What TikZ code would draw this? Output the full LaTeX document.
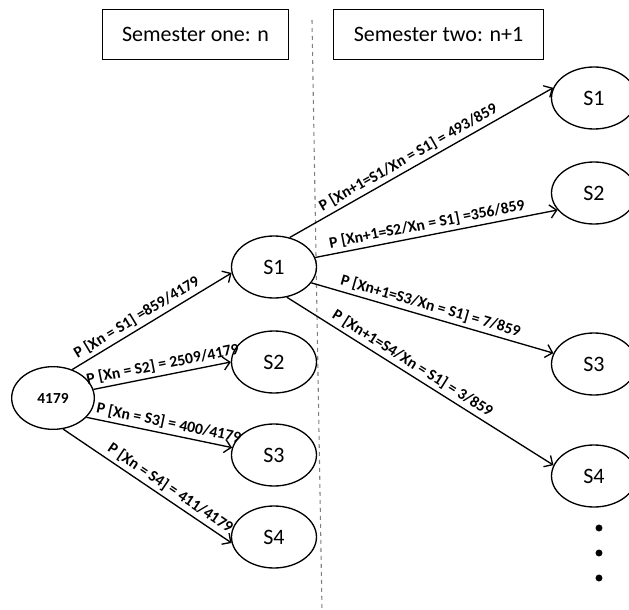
\documentclass[tikz,border=0pt]{standalone}
\usepackage{fontspec}
\setmainfont{Carlito}
\usetikzlibrary{arrows.meta,shapes.geometric}

\begin{document}
\begin{tikzpicture}[
  x=0.75pt, y=-0.75pt,
  state/.style={draw, ellipse, line width=1pt, inner sep=0pt, minimum width=63.75pt, minimum height=46.5pt, font=\fontsize{16.5}{18}\selectfont},
  sem/.style={draw, line width=0.7pt, inner sep=0pt, minimum height=37.5pt, font=\fontsize{16.5}{18}\selectfont},
  arr/.style={-{Straight Barb[length=5pt,width=10pt]}, line width=1pt},
  prob/.style={sloped, above=1.5pt, inner sep=1pt, font=\fontsize{11.8}{13}\selectfont\bfseries},
]
\useasboundingbox (0,0) rectangle (629,610);

\node[sem, minimum width=140pt] (semA) at (195.5,34) {Semester one: n};
\node[sem, minimum width=157pt] (semB) at (438.5,34) {Semester two: n+1};
\draw[dashed, gray, line width=0.8pt] (312,20) -- (322,610);

\node[state, minimum width=62pt, minimum height=47pt, font=\fontsize{11.5}{13}\selectfont\bfseries] (n0) at (53,398) {4179};

\node[state] (a1) at (274,267) {S1};
\node[state] (a2) at (274,362) {S2};
\node[state] (a3) at (274,455) {S3};
\node[state] (a4) at (274,537) {S4};

\node[state] (b1) at (594,98) {S1};
\node[state] (b2) at (594,193) {S2};
\node[state] (b3) at (594,364) {S3};
\node[state] (b4) at (594,476) {S4};

\foreach \yy in {528,553,578}
  \fill (599,\yy) circle[radius=2.6pt];

\draw[arr] (n0.56) -- (a1.188) node[prob, pos=0.44] {P [Xn = S1] =859/4179};
\draw[arr] (n0.12) -- (a2.west) node[prob, pos=0.52] {P [Xn = S2] = 2509/4179};
\draw[arr] (n0.330) -- (a3.170) node[prob, pos=0.55] {P [Xn = S3] = 400/4179};
\draw[arr] (n0.288) -- (a4.188) node[prob, pos=0.6] {P [Xn = S4] = 411/4179};

\draw[arr] (a1.62) -- (b1.166) node[prob, pos=0.47] {P [Xn+1=S1/Xn = S1] = 493/859};
\draw[arr] (a1.13) -- (b2.205) node[prob, pos=0.47] {P [Xn+1=S2/Xn = S1] =356/859};
\draw[arr] (a1.337) -- (b3.165) node[prob, pos=0.48] {P [Xn+1=S3/Xn = S1] = 7/859};
\draw[arr] (a1.293) -- (b4.165) node[prob, pos=0.45] {P [Xn+1=S4/Xn = S1] = 3/859};
\end{tikzpicture}
\end{document}
